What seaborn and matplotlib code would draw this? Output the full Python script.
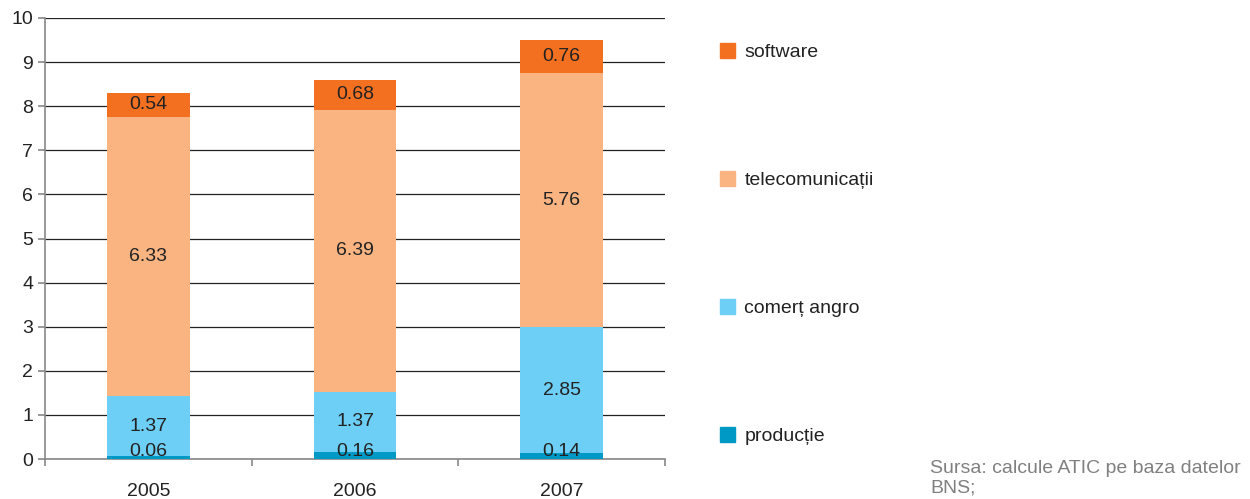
import pandas as pd
import numpy as np
import seaborn as sns
import matplotlib.pyplot as plt
from matplotlib.patches import Patch

# date
ani = ['2005', '2006', '2007']
productie = [0.06, 0.16, 0.14]
comert = [1.37, 1.37, 2.85]
telecom = [6.33, 6.39, 5.76]
software = [0.54, 0.68, 0.76]

serii = ['producție', 'comerț angro', 'telecomunicații', 'software']
culori = ['#0099C6', '#6DCFF6', '#F9B482', '#F37021']

sns.set_style('white')
plt.rcParams['font.family'] = ['Liberation Sans', 'DejaVu Sans']
fs = 14

df = pd.DataFrame({'an': ani, 'producție': productie, 'comerț angro': comert,
                   'telecomunicații': telecom, 'software': software})
cum = df[serii].cumsum(axis=1)

fig = plt.figure(figsize=(12.5, 4.99), dpi=100)
ax = fig.add_axes([0.036, 0.080, 0.496, 0.884])

# bare suprapuse, de sus in jos
for s, c in zip(serii[::-1], culori[::-1]):
    sns.barplot(x=df['an'], y=cum[s], color=c, width=0.4, saturation=1,
                ax=ax, zorder=3, linewidth=0)

# etichete
for i in range(len(ani)):
    jos = 0
    for s in serii:
        v = df[s][i]
        y = max(jos + v / 2, 0.18)
        ax.text(i, y, f'{v:.2f}', ha='center', va='center', fontsize=fs,
                color='#222222', zorder=4)
        jos += v

ax.set_ylim(0, 10)
ax.set_xlim(-0.5, 2.5)
ax.set_yticks(range(0, 11))
ax.set_xlabel('')
ax.set_ylabel('')
ax.yaxis.grid(True, color='#222222', linewidth=0.9)
ax.set_axisbelow(True)
for sp in ['top', 'right']:
    ax.spines[sp].set_visible(False)
for sp in ['left', 'bottom']:
    ax.spines[sp].set_color('#888888')
    ax.spines[sp].set_linewidth(1.2)
ax.tick_params(axis='y', direction='out', length=5, color='#888888', width=1.2,
               labelsize=fs, labelcolor='#222222', left=True)
ax.tick_params(axis='x', which='major', length=0, pad=17, labelsize=fs,
               labelcolor='#222222')
ax.set_xticks([-0.5, 0.5, 1.5, 2.5], minor=True)
ax.tick_params(axis='x', which='minor', direction='out', length=5,
               color='#888888', width=1.2, bottom=True)

# legenda
maner = [Patch(color=c) for c in culori[::-1]]
fig.legend(maner, serii[::-1], loc='upper left', bbox_to_anchor=(0.562, 0.948),
           frameon=False, fontsize=fs, labelspacing=5.66, handlelength=0.75,
           handleheight=0.75, handletextpad=0.5, labelcolor='#222222')

fig.text(0.744, 0.042, 'Sursa: calcule ATIC pe baza datelor\nBNS;', fontsize=fs,
         color='#808080', va='center', linespacing=1.2)

fig.savefig('out.png', dpi=100)
